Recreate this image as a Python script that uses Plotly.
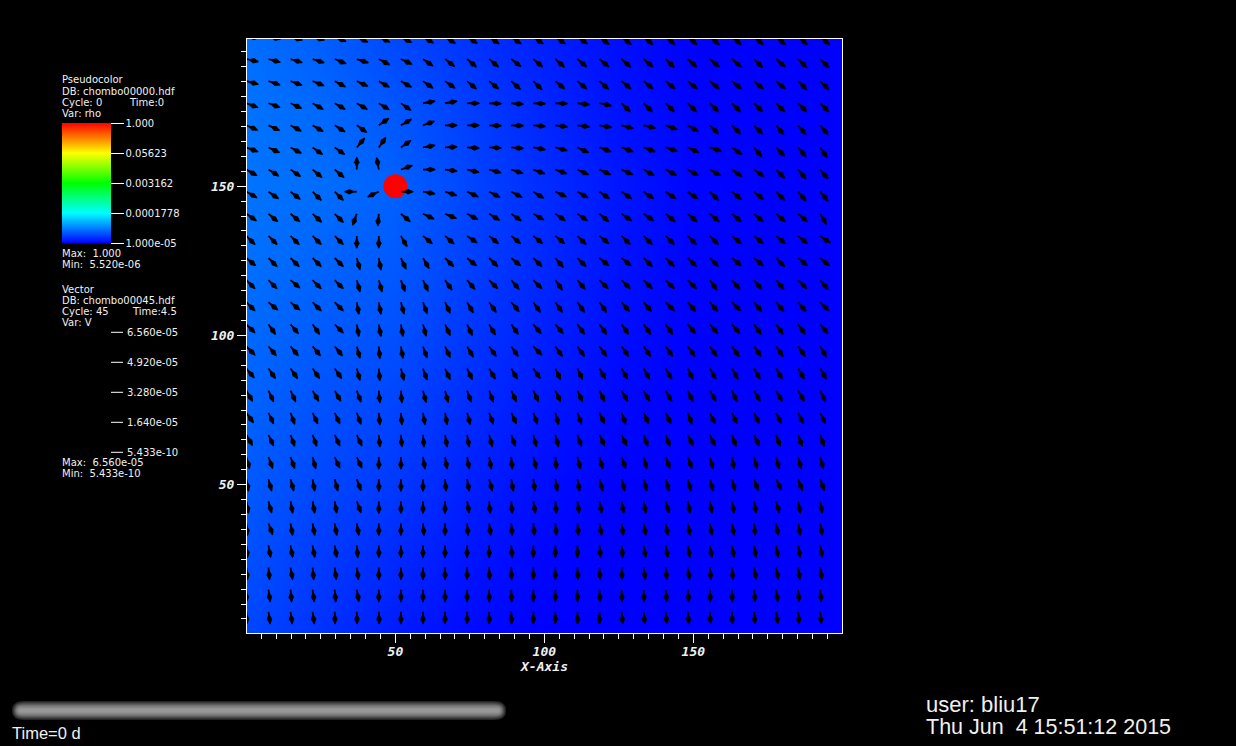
import math
import plotly.graph_objects as go

# ---- density background (log10 rho), rows bottom to top
rho_x = [0, 25, 50, 75, 100, 125, 150, 175, 200]
rho_y = [0, 25, 50, 75, 100, 125, 150, 175, 200]
rho_log10 = [
    [-4.657, -4.760, -4.870, -4.955, -5.0, -5.0, -5.0, -5.0, -5.0],
    [-4.608, -4.715, -4.800, -4.905, -4.980, -5.0, -5.0, -5.0, -5.0],
    [-4.559, -4.655, -4.725, -4.850, -4.940, -5.0, -5.0, -5.0, -5.0],
    [-4.520, -4.605, -4.670, -4.790, -4.895, -4.970, -5.0, -5.0, -5.0],
    [-4.485, -4.555, -4.610, -4.735, -4.850, -4.940, -5.0, -5.0, -5.0],
    [-4.451, -4.515, -4.560, -4.690, -4.805, -4.915, -4.990, -5.0, -5.0],
    [-4.436, -4.465, -4.525, -4.665, -4.785, -4.895, -4.980, -5.0, -5.0],
    [-4.436, -4.490, -4.580, -4.700, -4.820, -4.915, -4.990, -5.0, -5.0],
    [-4.461, -4.540, -4.650, -4.755, -4.850, -4.940, -5.0, -5.0, -5.0],
]
colorbar_vals = [-5, -3.75, -2.5, -1.25, 0]
colorbar_text = ["1.000e-05", "0.0001778", "0.003162", "0.05623", "1.000"]

# ---- source blob
source_x = [50]
source_y = [150]

# ---- vector glyph tails
node_x = [0.0, 7.41, 14.81, 22.22, 29.63, 37.04, 44.44, 51.85, 59.26, 66.67, 74.07, 81.48, 88.89,
          96.3, 103.7, 111.11, 118.52, 125.93, 133.33, 140.74, 148.15, 155.56, 162.96, 170.37,
          177.78, 185.19, 192.59]
node_y = [200.0, 192.59, 185.19, 177.78, 170.37, 162.96, 155.56, 148.15, 140.74, 133.33, 125.93,
          118.52, 111.11, 103.7, 96.3, 88.89, 81.48, 74.07, 66.67, 59.26, 51.85, 44.44, 37.04,
          29.63, 22.22, 14.81, 7.41]

# glyph heading, degrees clockwise from north; one row per node_y, one column per node_x
heading = [
    [95,100,105,105,112,115,115,118,120,122,122,125,125,125,125,125,128,128,130,130,130,130,130,130,130,130,130],
    [103,105,107,108,112,108,118,115,125,128,130,130,128,130,132,130,130,132,130,135,132,130,130,135,130,135,135],
    [105,108,110,112,118,115,120,120,125,125,130,130,132,135,130,130,132,130,130,130,130,130,130,130,130,135,135],
    [110,110,115,120,120,120,122,125,80,80,90,92,95,92,92,97,102,135,135,135,135,135,135,135,135,135,135],
    [113,115,118,120,122,125,55,60,70,90,90,92,92,95,97,97,100,105,103,110,120,135,135,135,140,140,140],
    [110,115,118,125,125,40,35,55,80,87,93,92,95,100,105,115,110,110,110,108,115,108,125,140,135,140,145],
    [120,122,125,130,130,0,350,70,90,97,103,105,108,110,110,115,115,115,120,118,120,120,125,125,135,140,140],
    [120,125,128,135,135,270,245,90,100,108,115,118,118,122,115,120,125,125,125,125,125,135,130,130,135,140,140],
    [125,130,130,133,135,200,185,130,115,112,118,122,125,120,125,125,130,125,125,130,130,130,130,130,130,130,150],
    [135,135,135,135,135,180,180,150,130,132,125,130,130,130,130,135,130,135,135,135,135,135,130,130,130,130,125],
    [130,135,135,135,135,165,170,155,150,135,130,135,130,135,140,135,130,130,135,135,135,135,130,130,135,130,130],
    [135,135,130,135,135,165,165,160,155,145,140,135,140,135,145,140,135,135,135,135,135,145,140,140,140,135,140],
    [135,130,130,135,135,170,170,165,160,155,150,145,140,145,145,145,145,140,140,135,140,140,135,140,140,140,135],
    [135,145,140,145,135,170,170,170,165,155,155,150,145,140,140,145,145,145,145,145,140,140,140,145,145,145,140],
    [135,140,140,140,140,165,175,170,160,155,150,145,145,135,145,145,145,145,145,145,145,145,145,145,145,145,150],
    [140,145,145,145,145,165,175,165,160,155,155,150,150,145,155,155,150,150,150,150,155,150,150,150,150,150,150],
    [150,155,155,150,150,160,175,175,165,165,160,160,155,155,155,155,155,150,150,150,155,150,155,150,150,150,155],
    [145,155,160,155,155,160,175,175,170,170,165,160,155,160,165,160,155,160,155,155,160,155,155,155,155,155,155],
    [150,155,160,160,155,155,175,175,175,170,170,165,160,165,165,160,155,155,160,160,155,155,160,155,160,160,160],
    [165,160,160,165,155,155,180,180,170,170,170,170,175,165,175,165,165,160,165,160,160,165,170,165,165,165,165],
    [170,165,165,170,165,160,180,180,180,175,170,165,170,172,170,170,165,165,165,165,165,165,165,160,155,160,160],
    [170,165,170,170,170,160,180,180,180,180,170,175,175,170,175,172,170,170,170,165,170,170,170,170,165,170,170],
    [175,160,170,170,170,170,180,180,175,180,175,172,175,175,175,175,170,172,170,170,170,170,170,175,170,170,170],
    [175,170,170,170,170,175,180,180,180,180,180,180,175,180,180,180,175,175,170,170,170,170,170,170,170,170,170],
    [175,175,170,175,172,172,180,180,180,180,180,178,178,180,180,178,178,178,172,175,172,175,175,170,170,172,172],
    [180,172,175,172,175,170,180,180,180,180,180,180,178,180,180,180,178,178,178,175,175,178,178,175,172,175,175],
    [178,172,172,172,178,178,178,180,180,180,180,180,178,180,180,180,180,175,175,175,175,178,178,175,172,175,175],
]

# ---- legend texts
x_ticks = [50, 100, 150]
y_ticks = [50, 100, 150]
vector_ticks = ["6.560e-05", "4.920e-05", "3.280e-05", "1.640e-05", "5.433e-10"]

# ---- layout geometry in pixels
W, H = 1236, 746
L, T, R, B = 247, 39, 842, 633
GLYPH = 4.0  # glyph length in axis units
LEGEND_FONT = "DejaVu Sans"


def px(x):
    return (x - L) / (R - L)


def py(y):
    return (B - y) / (B - T)


shaft_x, shaft_y, head_x, head_y, head_a = [], [], [], [], []
for j, yn in enumerate(node_y):
    for i, xn in enumerate(node_x):
        a = heading[j][i]
        dx, dy = math.sin(math.radians(a)) * GLYPH, math.cos(math.radians(a)) * GLYPH
        shaft_x += [xn, xn + dx, None]
        shaft_y += [yn, yn + dy, None]
        head_x.append(xn + 0.62 * dx)
        head_y.append(yn + 0.62 * dy)
        head_a.append(a)

fig = go.Figure()
fig.add_trace(go.Heatmap(
    x=rho_x, y=rho_y, z=rho_log10, zmin=-5, zmax=0, zsmooth="best",
    colorscale=[[0, "#0000ff"], [0.25, "#00ffff"], [0.5, "#00ff00"], [0.75, "#ffff00"], [1, "#ff0000"]],
    hoverinfo="skip",
    colorbar=dict(
        x=px(62), xanchor="left", y=py(123), yanchor="top", xpad=0, ypad=0,
        thicknessmode="pixels", thickness=49, lenmode="pixels", len=120,
        outlinewidth=0, tickmode="array", tickvals=colorbar_vals, ticktext=colorbar_text,
        ticks="outside", ticklen=13, tickwidth=1, tickcolor="white",
        tickfont=dict(family=LEGEND_FONT, size=10, color="#f0f0f0"),
    ),
))
fig.add_trace(go.Scatter(
    x=source_x, y=source_y, mode="markers", hoverinfo="skip",
    marker=dict(color="#ff0000", size=24, line=dict(width=0)),
))
fig.add_trace(go.Scatter(
    x=shaft_x, y=shaft_y, mode="lines", hoverinfo="skip",
    line=dict(color="black", width=1.8),
))
fig.add_trace(go.Scatter(
    x=head_x, y=head_y, mode="markers", hoverinfo="skip",
    marker=dict(symbol="diamond-tall", size=8, angle=head_a, color="black", line=dict(width=0)),
))


def text(x, y, s, size=10, family=LEGEND_FONT):
    fig.add_annotation(
        xref="paper", yref="paper", x=px(x - 1), y=py(y), text=s, showarrow=False,
        xanchor="left", yanchor="middle", align="left", borderpad=0,
        font=dict(family=family, size=size, color="#f0f0f0"),
    )


text(62, 80, "Pseudocolor")
text(62, 91.5, "DB: chombo00000.hdf")
text(62, 102.5, "Cycle: 0")
text(129, 102.5, "Time:0")
text(62, 113.5, "Var: rho")
text(62, 253, "Max:  1.000")
text(62, 264, "Min:  5.520e-06")
text(62, 289, "Vector")
text(62, 300, "DB: chombo00045.hdf")
text(62, 311, "Cycle: 45")
text(132, 311, "Time:4.5")
text(62, 322, "Var: V")
text(62, 462, "Max:  6.560e-05")
text(62, 473, "Min:  5.433e-10")
text(12, 733, "Time=0 d", 16.5, "Liberation Sans")
text(926, 704, "user: bliu17", 22, "Liberation Sans")
text(926, 727, "Thu Jun  4 15:51:12 2015", 21.5, "Liberation Sans")

shapes = []
for k, s in enumerate(vector_ticks):
    yy = 332.3 + 30 * k
    text(127, yy, s)
    shapes.append(dict(type="line", xref="paper", yref="paper", x0=px(111), x1=px(123),
                       y0=py(yy), y1=py(yy), line=dict(color="white", width=1)))

# progress tube: nested rounded bars
tube_greys = [38, 60, 82, 104, 122, 136, 146, 152]
for k, g in enumerate(tube_greys):
    x0, x1 = 12 + k * 1.0, 506 - k * 1.0
    y0, y1 = 701 + k * 1.15, 720 - k * 1.15
    r = (y1 - y0) / 2
    path = (f"M{px(x0 + r * 1.3)},{py(y0)} L{px(x1 - r * 1.3)},{py(y0)} "
            f"Q{px(x1)},{py(y0)} {px(x1)},{py(y0 + r)} Q{px(x1)},{py(y1)} {px(x1 - r * 1.3)},{py(y1)} "
            f"L{px(x0 + r * 1.3)},{py(y1)} Q{px(x0)},{py(y1)} {px(x0)},{py(y0 + r)} "
            f"Q{px(x0)},{py(y0)} {px(x0 + r * 1.3)},{py(y0)} Z")
    shapes.append(dict(type="path", xref="paper", yref="paper", path=path,
                       fillcolor=f"rgb({g},{g},{g})", line=dict(width=0)))

tick_font = dict(family="DejaVu Sans Mono", size=13, color="#f0f0f0", weight="bold", style="italic")
axis_common = dict(
    showgrid=False, zeroline=False, showline=True, mirror=True, linecolor="white", linewidth=1,
    tickmode="array", ticks="outside", ticklen=9, tickwidth=1, tickcolor="white", tickfont=tick_font,
    minor=dict(tickmode="linear", tick0=0, dtick=5, ticks="outside", ticklen=5, tickwidth=1,
               tickcolor="white", showgrid=False),
)
fig.update_layout(
    width=W, height=H, showlegend=False, paper_bgcolor="black", plot_bgcolor="black",
    margin=dict(l=L, r=W - R, t=T, b=H - B, autoexpand=False),
    shapes=shapes,
    xaxis=dict(range=[0.2, 199.9], tickvals=x_ticks, ticktext=[str(v) for v in x_ticks],
               ticklabelstandoff=-3,
               title=dict(text="X-Axis", font=dict(family="DejaVu Sans Mono", size=13, color="#f0f0f0",
                                                    weight="bold", style="italic"), standoff=2),
               **axis_common),
    yaxis=dict(range=[0.3, 199.3], tickvals=y_ticks, ticktext=[str(v) for v in y_ticks], **axis_common),
)
fig.write_html("out.html", config={"displayModeBar": False},
               post_script="document.body.style.margin='0';document.body.style.background='black';")
